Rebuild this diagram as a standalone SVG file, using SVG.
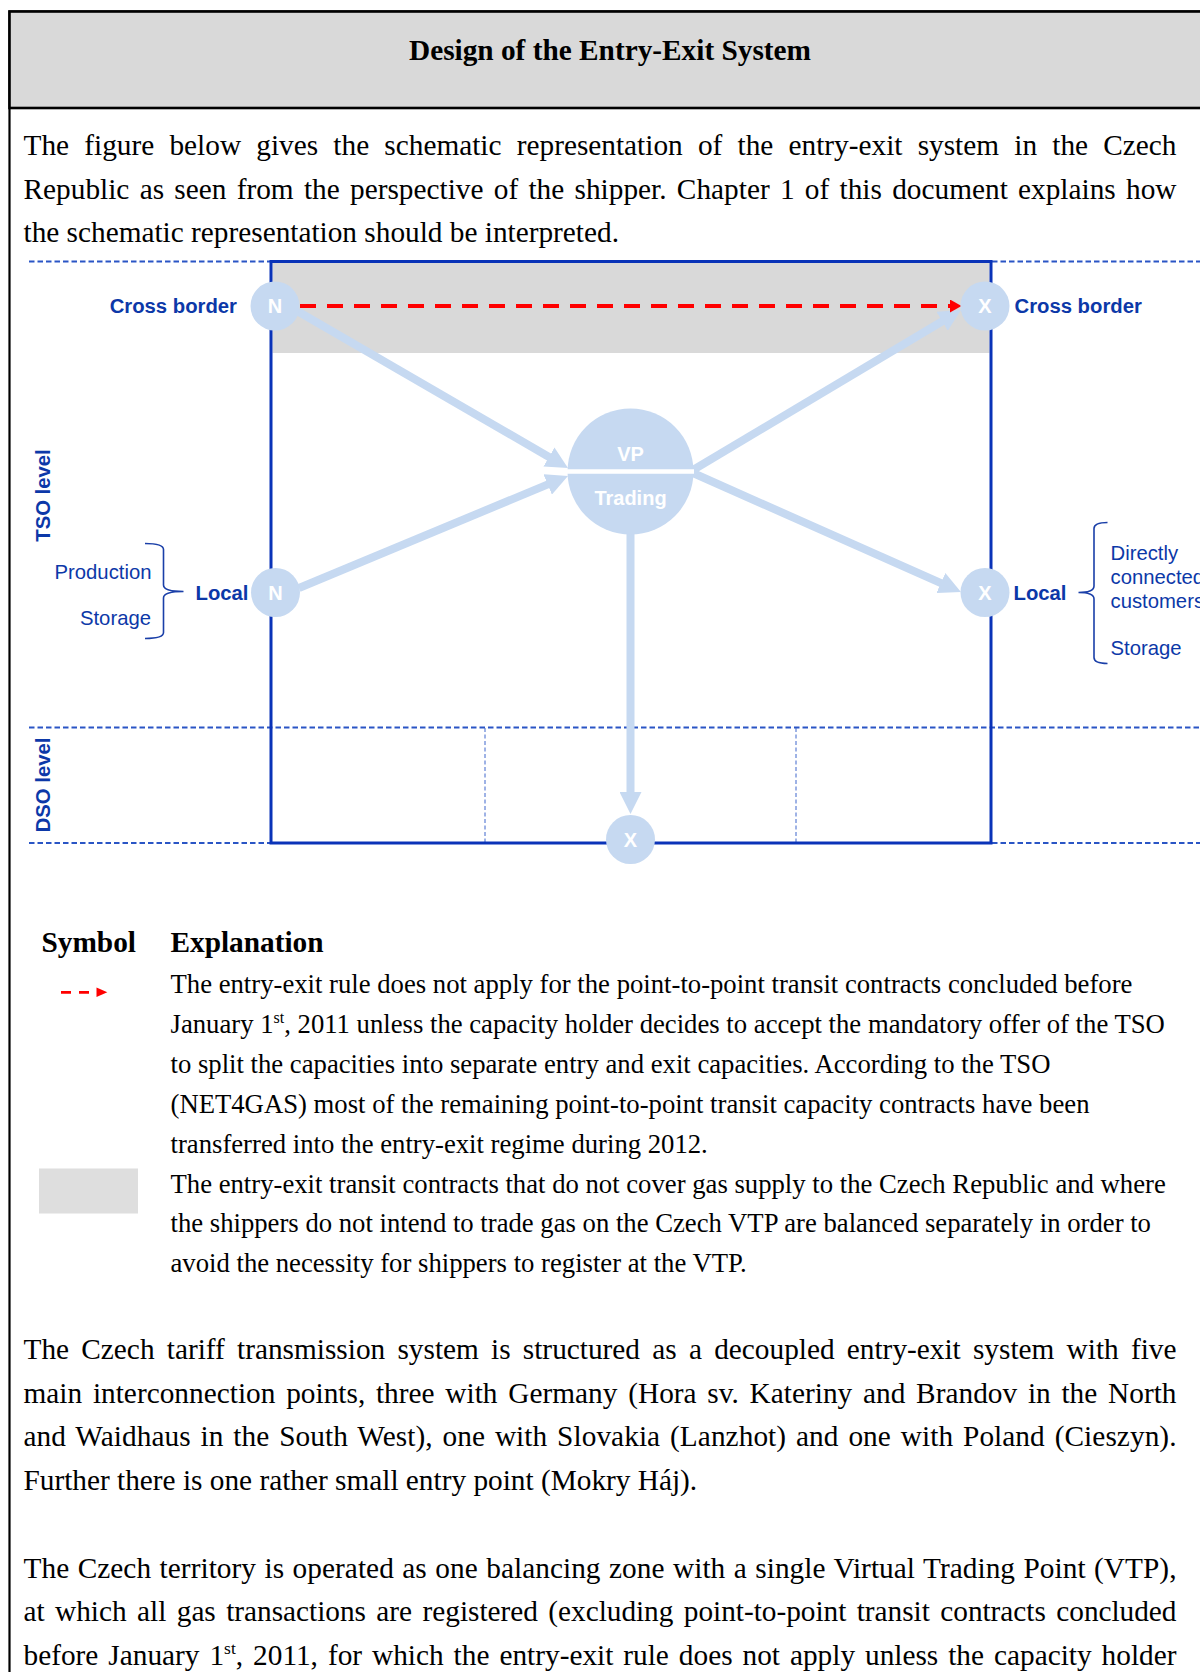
<svg xmlns="http://www.w3.org/2000/svg" width="1200" height="1672" viewBox="0 0 1200 1672">
  <style>
    .serif { font-family: "Liberation Serif", "Times New Roman", serif; fill: #000; }
    .body { font-size: 29.3px; }
    .leg { font-size: 26.7px; }
    .bold { font-weight: bold; }
    .lbl { font-family: "Liberation Sans", Arial, sans-serif; font-size: 20.3px; fill: #0c38a8; }
    .node { fill: #c6d9f1; }
    .ntxt { font-family: "Liberation Sans", Arial, sans-serif; font-size: 20px; font-weight: bold; fill: #fff; text-anchor: middle; }
    .level { stroke: #2a55c5; stroke-width: 2; stroke-dasharray: 5.5 3; fill: none; }
    .subdiv { stroke: #3f66cc; stroke-width: 1; stroke-dasharray: 4 2.5; fill: none; }
    .flow { stroke: #c6d9f1; stroke-width: 8; fill: none; marker-end: url(#arrow); }
    .brace { stroke: #1a3fa8; stroke-width: 1.6; fill: none; }
  </style>
  <defs>
    <marker id="arrow" markerUnits="userSpaceOnUse" markerWidth="22" markerHeight="22" refX="10" refY="11" orient="auto">
      <path d="M0,0 L22,11 L0,22 Z" fill="#c6d9f1"/>
    </marker>
    <marker id="redhead" markerUnits="userSpaceOnUse" markerWidth="12" markerHeight="13" refX="0" refY="6.5" orient="auto">
      <path d="M0,0 L11.5,6.5 L0,13 Z" fill="#ff0000"/>
    </marker>
  </defs>

  <!-- page frame and title bar -->
  <rect x="9.5" y="11.5" width="1205" height="1680" fill="#fff" stroke="#000" stroke-width="2.2"/>
  <rect x="9.5" y="11.5" width="1205" height="96.5" fill="#d9d9d9" stroke="#000" stroke-width="2.6"/>
  <text class="serif body bold" x="610" y="59.5" text-anchor="middle">Design of the Entry-Exit System</text>

  <!-- introduction (justified lines: word spacing plus exact length) -->
  <g id="intro">
    <text class="serif body" x="23.5" y="155" word-spacing="7.9" textLength="1153" lengthAdjust="spacing">The figure below gives the schematic representation of the entry-exit system in the Czech</text>
    <text class="serif body" x="23.5" y="198.5" word-spacing="2.9" textLength="1153" lengthAdjust="spacing">Republic as seen from the perspective of the shipper. Chapter 1 of this document explains how</text>
    <text class="serif body" x="23.5" y="242">the schematic representation should be interpreted.</text>
  </g>

  <!-- level separators -->
  <g id="levels">
    <line class="level" x1="29" y1="261.5" x2="270" y2="261.5"/>
    <line class="level" x1="992" y1="261.5" x2="1200" y2="261.5"/>
    <line class="level" x1="29" y1="727.5" x2="1200" y2="727.5"/>
    <line class="level" x1="29" y1="843" x2="270" y2="843"/>
    <line class="level" x1="992" y1="843" x2="1200" y2="843"/>
    <line class="subdiv" x1="485" y1="728" x2="485" y2="842"/>
    <line class="subdiv" x1="796" y1="728" x2="796" y2="842"/>
  </g>

  <!-- transmission system boundary with transit band -->
  <g id="system">
    <rect x="272.5" y="263" width="717" height="90" fill="#d9d9d9"/>
    <rect x="271" y="261.5" width="720" height="581.5" fill="none" stroke="#0a33b8" stroke-width="3"/>
  </g>

  <!-- level captions -->
  <text class="lbl bold" transform="translate(49.8,495.5) rotate(-90)" text-anchor="middle">TSO level</text>
  <text class="lbl bold" transform="translate(49.8,785) rotate(-90)" text-anchor="middle">DSO level</text>

  <!-- connectors -->
  <g id="connectors">
    <line class="flow" x1="298" y1="311.5" x2="557.6" y2="462"/>
    <line class="flow" x1="299" y1="588" x2="556.9" y2="480.6"/>
    <line class="flow" x1="693" y1="470" x2="950.7" y2="316.2"/>
    <line class="flow" x1="693" y1="473" x2="950" y2="587.1"/>
    <line class="flow" x1="630.5" y1="534" x2="630.5" y2="802"/>
    <line x1="300" y1="306" x2="950" y2="306" stroke="#ff0000" stroke-width="4" stroke-dasharray="16 11" marker-end="url(#redhead)"/>
  </g>

  <!-- nodes -->
  <g id="node-entry-cross-border">
    <circle class="node" cx="275" cy="306" r="24.5"/>
    <text class="ntxt" x="275" y="313.3">N</text>
    <text class="lbl bold" x="237" y="313.3" text-anchor="end">Cross border</text>
  </g>
  <g id="node-exit-cross-border">
    <circle class="node" cx="985" cy="306" r="24.5"/>
    <text class="ntxt" x="985" y="313.3">X</text>
    <text class="lbl bold" x="1014.5" y="313.3">Cross border</text>
  </g>
  <g id="node-entry-local">
    <circle class="node" cx="275.5" cy="592.5" r="24.5"/>
    <text class="ntxt" x="275.5" y="599.8">N</text>
    <text class="lbl bold" x="195.5" y="599.8">Local</text>
    <path class="brace" d="M145,543.5 Q163.5,543.5 163.5,549.5 L163.5,585 Q163.5,591.5 183.5,591.5 Q163.5,591.5 163.5,598 L163.5,632.5 Q163.5,638.5 145,638.5"/>
    <text class="lbl" x="151.5" y="579" text-anchor="end">Production</text>
    <text class="lbl" x="151" y="624.5" text-anchor="end">Storage</text>
  </g>
  <g id="node-exit-local">
    <circle class="node" cx="985" cy="592.5" r="24.5"/>
    <text class="ntxt" x="985" y="599.8">X</text>
    <text class="lbl bold" x="1013.5" y="599.8">Local</text>
    <path class="brace" d="M1107.5,522.5 Q1094,522.5 1094,528.5 L1094,586 Q1094,592.5 1078.5,592.5 Q1094,592.5 1094,599 L1094,657.5 Q1094,663.5 1107.5,663.5"/>
    <text class="lbl" x="1110.5" y="559.5">Directly</text>
    <text class="lbl" x="1110.5" y="583.5">connected</text>
    <text class="lbl" x="1110.5" y="608">customers</text>
    <text class="lbl" x="1110.5" y="655">Storage</text>
  </g>
  <g id="node-virtual-point">
    <circle class="node" cx="630.5" cy="471.5" r="63"/>
    <line x1="566" y1="471.5" x2="694" y2="471.5" stroke="#fff" stroke-width="4.5"/>
    <text class="ntxt" x="630.5" y="461">VP</text>
    <text class="ntxt" x="630.5" y="505">Trading</text>
  </g>
  <g id="node-exit-dso">
    <circle class="node" cx="630.5" cy="839.5" r="24.5"/>
    <text class="ntxt" x="630.5" y="846.8">X</text>
  </g>

  <!-- legend -->
  <g id="legend">
    <text class="serif body bold" x="41.5" y="951.5">Symbol</text>
    <text class="serif body bold" x="170.5" y="951.5">Explanation</text>
    <line x1="61" y1="992.3" x2="90" y2="992.3" stroke="#ff0000" stroke-width="2.8" stroke-dasharray="10 8"/>
    <polygon points="96.5,987.6 107.3,992.3 96.5,997" fill="#ff0000"/>
    <text class="serif leg" x="170.5" y="993">The entry-exit rule does not apply for the point-to-point transit contracts concluded before</text>
    <text class="serif leg" x="170.5" y="1033">January 1<tspan font-size="16px" dy="-10">st</tspan><tspan dy="10">, 2011 unless the capacity holder decides to accept the mandatory offer of the TSO</tspan></text>
    <text class="serif leg" x="170.5" y="1072.7">to split the capacities into separate entry and exit capacities. According to the TSO</text>
    <text class="serif leg" x="170.5" y="1112.7">(NET4GAS) most of the remaining point-to-point transit capacity contracts have been</text>
    <text class="serif leg" x="170.5" y="1152.5">transferred into the entry-exit regime during 2012.</text>
    <rect x="39" y="1168.5" width="99" height="45" fill="#dedede"/>
    <text class="serif leg" x="170.5" y="1192.5">The entry-exit transit contracts that do not cover gas supply to the Czech Republic and where</text>
    <text class="serif leg" x="170.5" y="1232.3">the shippers do not intend to trade gas on the Czech VTP are balanced separately in order to</text>
    <text class="serif leg" x="170.5" y="1272">avoid the necessity for shippers to register at the VTP.</text>
  </g>

  <!-- following paragraphs -->
  <g id="body-text">
    <text class="serif body" x="23.5" y="1359" word-spacing="4.9" textLength="1153" lengthAdjust="spacing">The Czech tariff transmission system is structured as a decoupled entry-exit system with five</text>
    <text class="serif body" x="23.5" y="1402.7" word-spacing="3.4" textLength="1153" lengthAdjust="spacing">main interconnection points, three with Germany (Hora sv. Kateriny and Brandov in the North</text>
    <text class="serif body" x="23.5" y="1446.4" word-spacing="2.5" textLength="1153" lengthAdjust="spacing">and Waidhaus in the South West), one with Slovakia (Lanzhot) and one with Poland (Cieszyn).</text>
    <text class="serif body" x="23.5" y="1490.2">Further there is one rather small entry point (Mokry Háj).</text>
    <text class="serif body" x="23.5" y="1577.6" word-spacing="1.1" textLength="1153" lengthAdjust="spacing">The Czech territory is operated as one balancing zone with a single Virtual Trading Point (VTP),</text>
    <text class="serif body" x="23.5" y="1621.4" word-spacing="3.2" textLength="1153" lengthAdjust="spacing">at which all gas transactions are registered (excluding point-to-point transit contracts concluded</text>
    <text class="serif body" x="23.5" y="1665.1" word-spacing="2.6" textLength="1153" lengthAdjust="spacing">before January 1<tspan font-size="17.5px" dy="-11">st</tspan><tspan dy="11">, 2011, for which the entry-exit rule does not apply unless the capacity holder</tspan></text>
  </g>
</svg>
